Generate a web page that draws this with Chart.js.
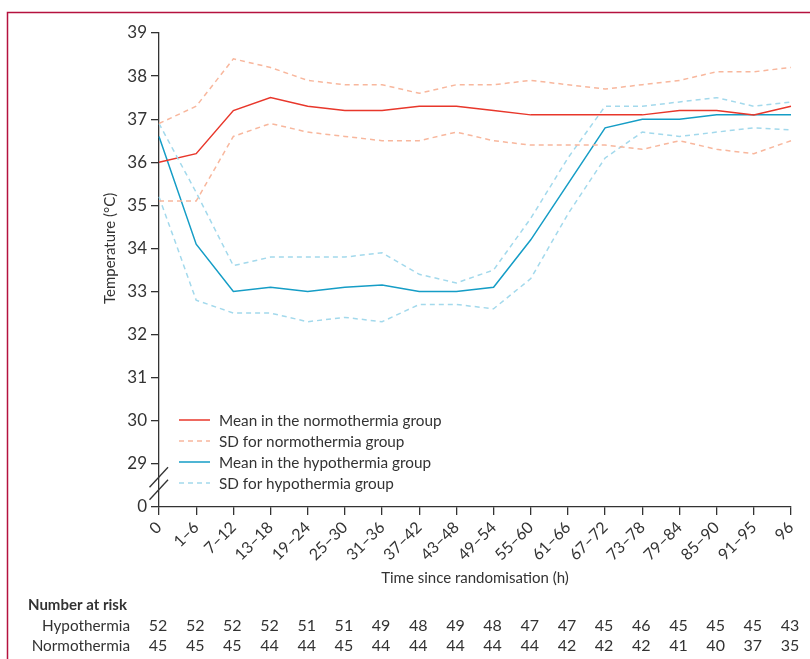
<!DOCTYPE html>
<html>
<head>
<meta charset="utf-8">
<script src="https://cdn.jsdelivr.net/npm/chart.js@4.4.1/dist/chart.umd.min.js"></script>
<style>
  html, body { margin: 0; padding: 0; background: #fff; }
  canvas { display: block; }
</style>
</head>
<body>
<canvas id="tempChart" width="810" height="659"></canvas>
<script>
// categories (time since randomisation, h)
const timeLabels = ['0', '1–6', '7–12', '13–18', '19–24', '25–30', '31–36', '37–42', '43–48',
  '49–54', '55–60', '61–66', '67–72', '73–78', '79–84', '85–90', '91–95', '96'];

// temperatures (°C)
const normoMean    = [36.0, 36.2, 37.2, 37.5, 37.3, 37.2, 37.2, 37.3, 37.3, 37.2, 37.1, 37.1, 37.1, 37.1, 37.2, 37.2, 37.1, 37.3];
const normoSdUpper = [36.9, 37.3, 38.4, 38.2, 37.9, 37.8, 37.8, 37.6, 37.8, 37.8, 37.9, 37.8, 37.7, 37.8, 37.9, 38.1, 38.1, 38.2];
const normoSdLower = [35.1, 35.1, 36.6, 36.9, 36.7, 36.6, 36.5, 36.5, 36.7, 36.5, 36.4, 36.4, 36.4, 36.3, 36.5, 36.3, 36.2, 36.5];
const hypoMean     = [36.6, 34.1, 33.0, 33.1, 33.0, 33.1, 33.15, 33.0, 33.0, 33.1, 34.2, 35.5, 36.8, 37.0, 37.0, 37.1, 37.1, 37.1];
const hypoSdUpper  = [36.9, 35.3, 33.6, 33.8, 33.8, 33.8, 33.9, 33.4, 33.2, 33.5, 34.7, 36.1, 37.3, 37.3, 37.4, 37.5, 37.3, 37.4];
const hypoSdLower  = [35.2, 32.8, 32.5, 32.5, 32.3, 32.4, 32.3, 32.7, 32.7, 32.6, 33.3, 34.8, 36.1, 36.7, 36.6, 36.7, 36.8, 36.75];

// number at risk
const riskHypo  = [52, 52, 52, 52, 51, 51, 49, 48, 49, 48, 47, 47, 45, 46, 45, 45, 45, 43];
const riskNormo = [45, 45, 45, 44, 44, 45, 44, 44, 44, 44, 44, 42, 42, 42, 41, 40, 37, 35];

// y axis: 28 stands in for the broken-off 0
const yMin = 28, yMax = 39, yBreakValue = 28;

const FONT = 'Lato, "Open Sans", sans-serif';
const TEXT = '#333333';
const RED = '#e8372b', SALMON = '#f8b79d', TEAL = '#159dc6', SKY = '#a3d9ec';

const legendItems = [
  { text: 'Mean in the normothermia group', color: RED, dash: [] },
  { text: 'SD for normothermia group', color: SALMON, dash: [5, 4] },
  { text: 'Mean in the hypothermia group', color: TEAL, dash: [] },
  { text: 'SD for hypothermia group', color: SKY, dash: [5, 4] }
];

function line(data, color, dash) {
  return {
    data: data,
    borderColor: color,
    borderWidth: 1.5,
    borderDash: dash,
    pointRadius: 0,
    tension: 0,
    fill: false
  };
}

// frame, axis break, y title, legend, number-at-risk table
const extras = {
  id: 'extras',
  afterDraw(chart) {
    const { ctx, scales: { x, y } } = chart;
    ctx.save();

    // crimson frame (top and left)
    ctx.strokeStyle = '#b5123e';
    ctx.lineWidth = 1.5;
    ctx.beginPath();
    ctx.moveTo(7.5, 659);
    ctx.lineTo(7.5, 12.5);
    ctx.lineTo(810, 12.5);
    ctx.stroke();

    // axis break marks between 29 and 0
    const y29 = y.getPixelForValue(29), y0 = y.getPixelForValue(yBreakValue);
    const ax = x.left;
    ctx.strokeStyle = TEXT;
    ctx.lineWidth = 1.3;
    [0.31, 0.6].forEach(f => {
      const cy = y29 + (y0 - y29) * f;
      ctx.beginPath();
      ctx.moveTo(ax - 9.5, cy + 10);
      ctx.lineTo(ax + 9, cy - 10);
      ctx.stroke();
    });

    // y title, centred on the unbroken part of the axis
    ctx.fillStyle = TEXT;
    ctx.font = '15px ' + FONT;
    ctx.textAlign = 'center';
    ctx.textBaseline = 'middle';
    ctx.save();
    ctx.translate(110, (y.getPixelForValue(yMax) + y29) / 2);
    ctx.rotate(-Math.PI / 2);
    ctx.fillText('Temperature (°C)', 0, 0);
    ctx.restore();

    // legend
    ctx.textAlign = 'left';
    ctx.font = '15.3px ' + FONT;
    legendItems.forEach((it, i) => {
      const ly = 420 + i * 21;
      ctx.strokeStyle = it.color;
      ctx.lineWidth = 1.5;
      ctx.setLineDash(it.dash);
      ctx.beginPath();
      ctx.moveTo(179, ly);
      ctx.lineTo(210, ly);
      ctx.stroke();
      ctx.setLineDash([]);
      ctx.fillStyle = TEXT;
      ctx.fillText(it.text, 219, ly + 1);
    });

    // number at risk
    ctx.font = 'bold 15px ' + FONT;
    ctx.fillText('Number at risk', 28, 605);
    ctx.font = '15.3px ' + FONT;
    ctx.textAlign = 'right';
    ctx.fillText('Hypothermia', 130, 626);
    ctx.fillText('Normothermia', 130, 646);
    ctx.font = '16px ' + FONT;
    ctx.textAlign = 'center';
    timeLabels.forEach((_, i) => {
      const px = x.getPixelForValue(i) - 1;
      ctx.fillText(String(riskHypo[i]), px, 626);
      ctx.fillText(String(riskNormo[i]), px, 646);
    });

    ctx.restore();
  }
};

new Chart(document.getElementById('tempChart'), {
  type: 'line',
  data: {
    labels: timeLabels,
    datasets: [
      line(normoSdUpper, SALMON, [5, 4]),
      line(normoSdLower, SALMON, [5, 4]),
      line(hypoSdUpper, SKY, [5, 4]),
      line(hypoSdLower, SKY, [5, 4]),
      line(normoMean, RED, []),
      line(hypoMean, TEAL, [])
    ]
  },
  options: {
    responsive: false,
    animation: false,
    layout: { padding: { top: 33, right: 19, left: 0, bottom: 0 } },
    plugins: { legend: { display: false }, tooltip: { enabled: false } },
    scales: {
      x: {
        offset: false,
        grid: { drawOnChartArea: false, drawTicks: true, tickLength: 8, color: TEXT, lineWidth: 1.3 },
        border: { color: TEXT, width: 1.3 },
        ticks: { autoSkip: false, maxRotation: 45, minRotation: 45, padding: 3, color: TEXT, font: { family: FONT, size: 16 } },
        title: { display: true, text: 'Time since randomisation (h)', color: TEXT, font: { family: FONT, size: 15 }, padding: { top: 0, bottom: 72 } },
        afterFit: s => { s.height = 152; }
      },
      y: {
        min: yMin,
        max: yMax,
        grid: { drawOnChartArea: false, drawTicks: true, tickLength: 8, color: TEXT, lineWidth: 1.3 },
        border: { color: TEXT, width: 1.3 },
        ticks: { stepSize: 1, padding: 4, color: TEXT, font: { family: FONT, size: 17 },
          callback: v => (v === yBreakValue ? '0' : v) },
        afterFit: s => { s.width = 159; }
      }
    }
  },
  plugins: [extras]
});
</script>
</body>
</html>
